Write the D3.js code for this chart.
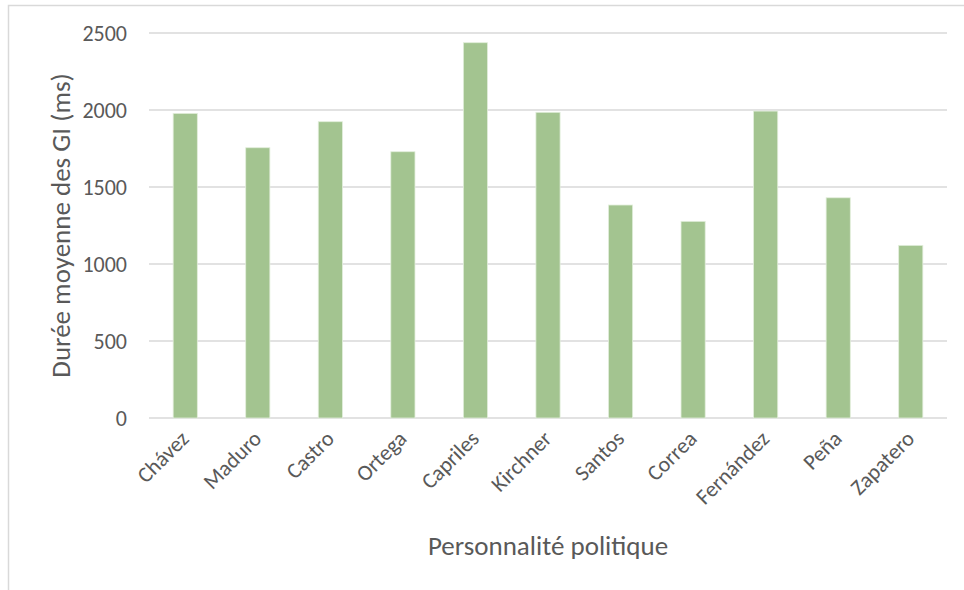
<!DOCTYPE html>
<html>
<head>
<meta charset="utf-8">
<script src="https://cdn.jsdelivr.net/npm/d3@7"></script>
<style>
  body { margin: 0; background: #fff; }
  svg text { font-family: Carlito, Calibri, Lato, sans-serif; fill: #595959; }
</style>
</head>
<body>
<svg id="chart" width="964" height="590"></svg>
<script>
var personnalites = ["Chávez", "Maduro", "Castro", "Ortega", "Capriles", "Kirchner",
                     "Santos", "Correa", "Fernández", "Peña", "Zapatero"];
var durees = [1978, 1755, 1924, 1729, 2437, 1985, 1383, 1277, 1993, 1430, 1121];
var yTicks = [0, 500, 1000, 1500, 2000, 2500];

var svg = d3.select("#chart"),
    margin = {top: 33, right: 17, bottom: 172, left: 149},
    width = +svg.attr("width") - margin.left - margin.right,
    height = +svg.attr("height") - margin.top - margin.bottom;

// chart area border (cropped on right / bottom)
svg.append("rect")
    .attr("x", 8.5).attr("y", 5.5)
    .attr("width", 1000).attr("height", 700)
    .attr("fill", "none")
    .attr("stroke", "#d9d9d9")
    .attr("stroke-width", 1.5);

var g = svg.append("g")
    .attr("transform", "translate(" + margin.left + "," + margin.top + ")");

var data = personnalites.map(function(p, i) { return {nom: p, valeur: durees[i]}; });

var x = d3.scaleBand()
    .domain(personnalites)
    .range([0, width])
    .paddingInner(0.667)
    .paddingOuter(0.333);

var y = d3.scaleLinear().domain([0, 2500]).range([height, 0]);

// gridlines
g.append("g")
  .selectAll("line")
  .data(yTicks)
  .enter().append("line")
    .attr("x1", 0)
    .attr("x2", width)
    .attr("y1", function(d) { return y(d); })
    .attr("y2", function(d) { return y(d); })
    .attr("stroke", "#d9d9d9")
    .attr("stroke-width", 1.5);

// bars
g.append("g")
  .selectAll("rect")
  .data(data)
  .enter().append("rect")
    .attr("x", function(d) { return x(d.nom); })
    .attr("y", function(d) { return y(d.valeur); })
    .attr("width", x.bandwidth())
    .attr("height", function(d) { return height - y(d.valeur); })
    .attr("fill", "#a3c490")
    .attr("stroke", "#e2eedb")
    .attr("stroke-width", 0.8);

// y axis
var yAxis = g.append("g")
    .call(d3.axisLeft(y).tickValues(yTicks).tickFormat(d3.format("d")).tickSize(0).tickPadding(22));
yAxis.select(".domain").remove();
yAxis.selectAll("text")
    .attr("font-size", "22px")
    .attr("dy", "0.34em")
    .style("fill", "#595959");

// x axis
var xAxis = g.append("g")
    .attr("transform", "translate(0," + height + ")")
    .call(d3.axisBottom(x).tickSize(0));
xAxis.select(".domain").remove();
xAxis.selectAll("text")
    .attr("font-size", "22px")
    .style("fill", "#595959")
    .attr("text-anchor", "end")
    .attr("dy", null)
    .attr("y", 0)
    .attr("transform", "translate(5,22) rotate(-45)");

// y title
svg.append("text")
    .attr("transform", "translate(70," + (margin.top + height / 2) + ") rotate(-90)")
    .attr("text-anchor", "middle")
    .attr("font-size", "27px")
    .text("Durée moyenne des GI (ms)");

// x title
svg.append("text")
    .attr("x", margin.left + width / 2)
    .attr("y", 555)
    .attr("text-anchor", "middle")
    .attr("font-size", "27px")
    .text("Personnalité politique");
</script>
</body>
</html>
